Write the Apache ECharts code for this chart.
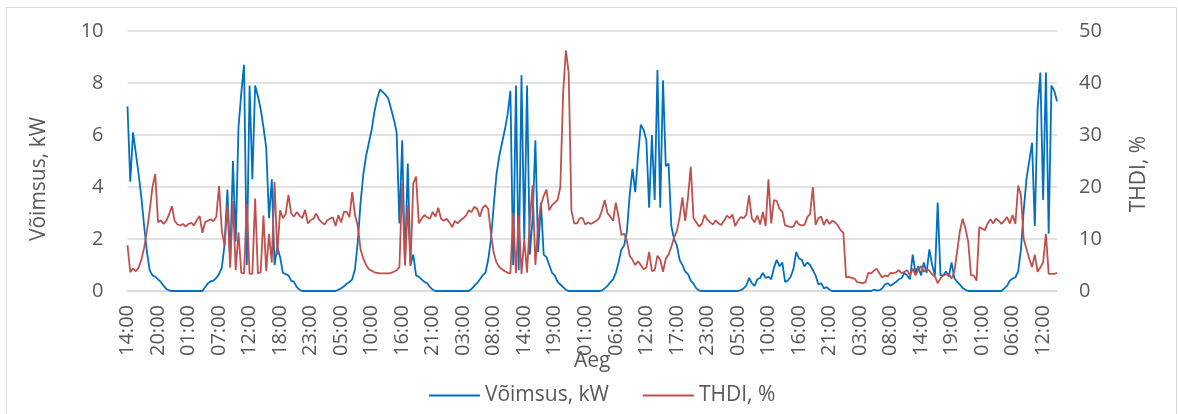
<!DOCTYPE html>
<html>
<head>
<meta charset="utf-8">
<script src="https://cdn.jsdelivr.net/npm/echarts@6/dist/echarts.min.js"></script>
<style>
  html, body { margin: 0; padding: 0; background: #ffffff; }
  #chart { width: 1178px; height: 414px; }
</style>
</head>
<body>
<div id="chart"></div>
<script>
// Labelled ticks along the time axis (one every 11 half-hour samples)
const tickLabels = [
  '14:00', '20:00', '01:00', '07:00', '12:00', '18:00', '23:00', '05:00', '10:00', '16:00',
  '21:00', '03:00', '08:00', '14:00', '19:00', '01:00', '06:00', '12:00', '17:00', '23:00',
  '05:00', '10:00', '16:00', '21:00', '03:00', '08:00', '14:00', '19:00', '01:00', '06:00',
  '12:00'
];

// Active power, kW (half-hour samples)
const power = [
  7.1, 4.2, 6.1, 5.3, 4.5, 3.6, 2.5, 1.5, 0.8, 0.6, 0.55,
  0.45, 0.35, 0.2, 0.08, 0.02, 0, 0, 0, 0, 0, 0,
  0, 0, 0, 0, 0, 0, 0.15, 0.3, 0.37, 0.4, 0.5,
  0.65, 0.9, 1.8, 3.9, 1.2, 5.0, 1.9, 6.3, 7.6, 8.7, 1.0,
  7.9, 4.3, 7.9, 7.5, 7.0, 6.3, 5.5, 2.8, 4.3, 1.0, 1.7,
  1.3, 0.7, 0.65, 0.6, 0.4, 0.35, 0.15, 0.05, 0, 0, 0,
  0, 0, 0, 0, 0, 0, 0, 0, 0, 0, 0.05,
  0.1, 0.18, 0.28, 0.35, 0.45, 0.85, 1.9, 3.4, 4.5, 5.2, 5.7,
  6.2, 6.9, 7.4, 7.75, 7.65, 7.55, 7.4, 7.0, 6.6, 6.1, 2.6,
  5.8, 1.0, 4.9, 1.0, 1.4, 0.6, 0.55, 0.45, 0.35, 0.3, 0.15,
  0.05, 0, 0, 0, 0, 0, 0, 0, 0, 0, 0,
  0, 0, 0, 0.08, 0.2, 0.3, 0.45, 0.6, 0.7, 1.2, 2.0,
  3.3, 4.5, 5.2, 5.7, 6.2, 6.8, 7.7, 1.0, 7.9, 0.8, 8.3,
  2.0, 7.9, 1.4, 2.8, 5.8, 1.5, 3.4, 1.4, 1.3, 1.0, 0.7,
  0.6, 0.35, 0.25, 0.15, 0.05, 0, 0, 0, 0, 0, 0,
  0, 0, 0, 0, 0, 0, 0.02, 0.1, 0.2, 0.33, 0.45,
  0.7, 1.1, 1.6, 1.75, 2.3, 3.7, 4.7, 3.8, 5.2, 6.4, 6.2,
  5.8, 3.2, 6.0, 3.5, 8.5, 3.2, 8.1, 4.8, 4.9, 2.5, 2.0,
  1.75, 1.2, 1.0, 0.75, 0.65, 0.4, 0.28, 0.1, 0.02, 0, 0,
  0, 0, 0, 0, 0, 0, 0, 0, 0, 0, 0,
  0, 0.03, 0.1, 0.2, 0.5, 0.3, 0.2, 0.45, 0.5, 0.7, 0.5,
  0.55, 0.45, 0.9, 1.2, 0.95, 1.1, 0.35, 0.4, 0.55, 0.85, 1.5,
  1.25, 1.2, 0.95, 1.1, 1.0, 0.8, 0.6, 0.25, 0.3, 0.1, 0.15,
  0.05, 0, 0, 0, 0, 0, 0, 0, 0, 0, 0,
  0, 0, 0, 0, 0, 0.05, 0.02, 0.03, 0.1, 0.25, 0.3,
  0.2, 0.28, 0.35, 0.45, 0.5, 0.7, 0.6, 0.45, 1.4, 0.7, 0.95,
  0.6, 1.1, 0.7, 1.6, 1.0, 0.6, 3.4, 0.6, 0.6, 0.75, 0.55,
  1.1, 0.5, 0.35, 0.25, 0.12, 0.05, 0, 0, 0, 0, 0,
  0, 0, 0, 0, 0, 0, 0, 0, 0.1, 0.2, 0.4,
  0.48, 0.52, 0.75, 1.6, 3.1, 4.3, 5.0, 5.7, 2.5, 7.0, 8.4,
  3.5, 8.4, 2.2, 7.9, 7.7, 7.3
];

// Current total harmonic distortion, % (same samples)
const thdi = [
  8.8, 3.6, 4.3, 3.8, 4.5, 6.0, 8.3, 11.5, 15.5, 20.0, 22.5,
  13.2, 13.6, 12.9, 13.5, 14.8, 16.3, 13.5, 12.8, 12.6, 12.9, 12.4,
  12.9, 13.1, 12.6, 13.7, 14.4, 11.2, 13.3, 13.5, 13.8, 13.4, 14.3,
  20.2, 11.5, 8.7, 16.5, 4.5, 17.3, 4.0, 11.3, 3.5, 3.4, 16.8,
  3.3, 3.3, 17.8, 3.4, 3.6, 14.5, 3.8, 11.0, 5.5, 21.0, 7.0,
  15.5, 14.0, 14.8, 18.5, 14.9, 14.3, 15.2, 14.5, 14.0, 15.6, 13.0,
  13.6, 13.9, 14.9, 13.8, 13.2, 12.8, 13.6, 13.9, 14.2, 12.5, 14.6,
  13.2, 15.2, 15.2, 14.2, 19.0, 14.6, 12.5, 8.0, 6.2, 5.0, 4.2,
  3.9, 3.6, 3.5, 3.4, 3.4, 3.4, 3.4, 3.5, 3.7, 4.0, 4.6,
  20.7, 4.9, 16.5, 4.8, 20.7, 22.0, 13.0, 13.9, 14.6, 14.2, 13.9,
  15.2, 14.3, 16.0, 13.9, 13.5, 13.9, 13.2, 12.3, 13.5, 13.0, 13.6,
  14.0, 14.5, 15.5, 15.2, 16.2, 15.8, 14.3, 16.0, 16.5, 15.8, 11.0,
  7.3, 5.5, 4.6, 4.2, 3.8, 3.5, 3.4, 15.0, 3.4, 14.5, 3.3,
  10.0, 3.5, 13.5, 20.3, 5.0, 12.6, 16.5, 18.3, 19.5, 15.5, 16.5,
  17.0, 17.5, 20.0, 38.0, 46.3, 42.0, 15.5, 13.0, 13.0, 14.0, 14.0,
  12.8, 13.2, 12.9, 13.2, 13.5, 14.0, 15.5, 17.5, 15.0, 14.3, 13.5,
  17.0, 14.2, 10.8, 11.0, 9.6, 6.8, 6.0, 5.0, 5.7, 5.0, 4.2,
  4.5, 7.5, 3.8, 4.0, 6.8, 6.0, 3.7, 6.2, 7.0, 8.5, 10.3,
  11.5, 14.2, 18.0, 13.5, 18.0, 23.9, 14.0, 13.2, 12.4, 12.9, 14.6,
  13.7, 13.2, 12.8, 13.6, 13.0, 12.7, 13.5, 14.5, 14.0, 14.7, 12.5,
  13.5, 14.2, 14.0, 14.6, 18.4, 14.0, 13.2, 14.5, 12.8, 15.2, 12.5,
  21.5, 13.0, 17.5, 17.3, 15.8, 15.2, 12.6, 12.5, 12.3, 12.4, 13.5,
  12.8, 12.6, 12.7, 14.2, 14.8, 20.0, 12.7, 14.0, 14.3, 12.7, 13.8,
  12.9, 13.5, 13.2, 12.6, 11.7, 11.2, 2.6, 2.7, 2.5, 2.4, 1.7,
  1.6, 1.5, 1.7, 3.5, 3.4, 3.9, 4.3, 3.4, 2.6, 3.0, 2.8,
  3.5, 3.4, 3.6, 4.0, 3.4, 3.7, 4.0, 3.0, 4.3, 3.0, 4.0,
  4.8, 3.7, 4.3, 3.9, 3.2, 2.8, 1.5, 2.4, 3.0, 3.2, 3.3,
  2.4, 3.7, 7.5, 11.5, 13.9, 12.0, 9.5, 3.0, 3.0, 2.0, 12.3,
  12.0, 11.7, 13.0, 13.8, 13.0, 13.9, 13.5, 12.9, 13.5, 14.2, 13.0,
  14.6, 12.9, 20.3, 18.4, 10.0, 8.1, 6.2, 4.6, 7.0, 3.7, 4.5,
  5.5, 11.0, 3.3, 3.3, 3.3, 3.5
];

const SAMPLES_PER_TICK = 11;
const categories = power.map((_, i) => String(i));

const FONT = '"Open Sans", "Noto Sans", sans-serif';
const TEXT = '#595959';
const GRID = '#D9D9D9';
const BLUE = '#0070C0';
const RED = '#C0504D';

const chart = echarts.init(document.getElementById('chart'), null, { renderer: 'canvas' });

chart.setOption({
  animation: false,
  backgroundColor: '#ffffff',
  textStyle: { fontFamily: FONT, color: TEXT },
  graphic: [{
    type: 'rect',
    silent: true,
    shape: { x: 6.5, y: 7.5, width: 1170, height: 420 },
    style: { fill: 'none', stroke: GRID, lineWidth: 1 }
  }],
  grid: {
    left: 127.5, right: 121, top: 31, bottom: 123,
    outerBoundsMode: 'none'
  },
  legend: {
    left: 423, top: 380,
    itemWidth: 51, itemHeight: 14, itemGap: 33,
    // line-only legend keys: hide the marker drawn in the middle of the key
    itemStyle: { opacity: 0 },
    lineStyle: { width: 1.8 },
    textStyle: { fontFamily: FONT, fontSize: 21, color: TEXT },
    data: ['Võimsus, kW', 'THDI, %']
  },
  xAxis: {
    type: 'category',
    data: categories,
    boundaryGap: false,
    axisLine: { show: true, lineStyle: { color: GRID, width: 1.5 } },
    axisTick: { show: false },
    splitLine: { show: false },
    axisLabel: {
      interval: SAMPLES_PER_TICK - 1,
      rotate: 90,
      margin: 14,
      fontFamily: FONT, fontSize: 20, color: TEXT,
      formatter: (v) => tickLabels[Math.round(Number(v) / SAMPLES_PER_TICK)]
    },
    name: 'Aeg',
    nameLocation: 'middle',
    nameGap: 60,
    nameMoveOverlap: false,
    nameTextStyle: { fontFamily: FONT, fontSize: 21, color: TEXT }
  },
  yAxis: [{
    type: 'value',
    min: 0, max: 10, interval: 2,
    axisLine: { show: false },
    axisTick: { show: false },
    splitLine: { show: true, lineStyle: { color: GRID, width: 1.5 } },
    axisLabel: { margin: 24, fontFamily: FONT, fontSize: 20, color: TEXT },
    name: 'Võimsus, kW',
    nameLocation: 'middle',
    nameGap: 78,
    nameMoveOverlap: false,
    nameTextStyle: { fontFamily: FONT, fontSize: 21, color: TEXT, padding: [0, 36, 0, 0] }
  }, {
    type: 'value',
    position: 'right',
    min: 0, max: 50, interval: 10,
    axisLine: { show: false },
    axisTick: { show: false },
    splitLine: { show: false },
    axisLabel: { margin: 22, fontFamily: FONT, fontSize: 20, color: TEXT },
    name: 'THDI, %',
    nameLocation: 'middle',
    nameGap: 72,
    nameMoveOverlap: false,
    nameTextStyle: { fontFamily: FONT, fontSize: 21, color: TEXT, padding: [0, 26, 0, 0] }
  }],
  series: [{
    name: 'Võimsus, kW',
    type: 'line',
    yAxisIndex: 0,
    data: power,
    symbol: 'none',
    color: BLUE,
    lineStyle: { width: 1.8, color: BLUE }
  }, {
    name: 'THDI, %',
    type: 'line',
    yAxisIndex: 1,
    data: thdi,
    symbol: 'none',
    color: RED,
    lineStyle: { width: 1.8, color: RED }
  }]
});
</script>
</body>
</html>
